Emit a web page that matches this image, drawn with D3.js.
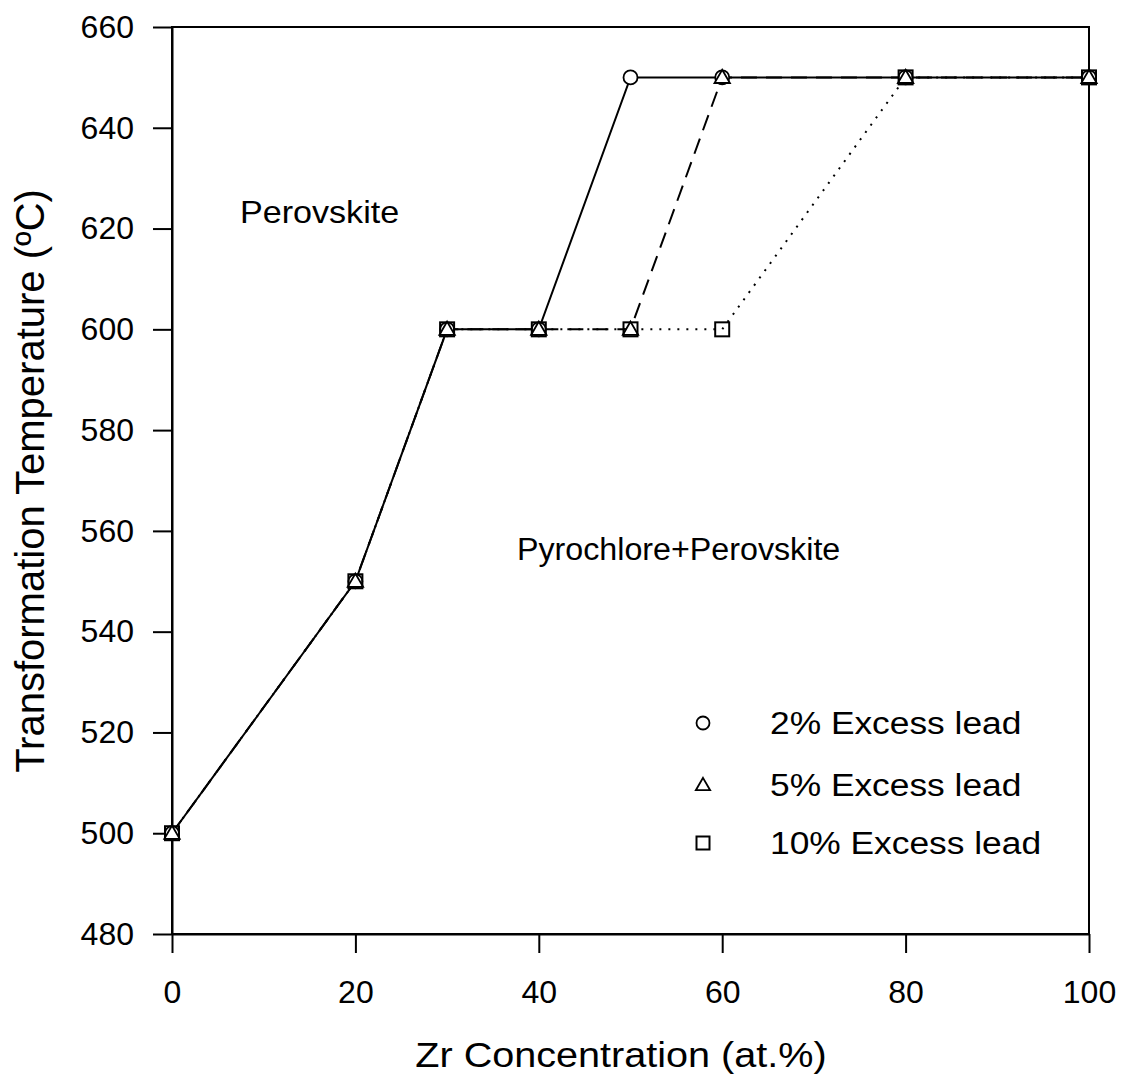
<!DOCTYPE html>
<html><head><meta charset="utf-8">
<script src="https://cdn.jsdelivr.net/npm/d3@7"></script>
<style>body{margin:0;background:#fff}svg{display:block}text{font-family:"Liberation Sans",Arial,sans-serif;fill:#000}</style>
</head><body>
<svg id="c" width="1121" height="1080"></svg>
<script>
const zr = [0, 20, 30, 40, 50, 60, 80, 100];
const lead2 = [500, 550, 600, 600, 650, 650, 650, 650];
const lead5 = [500, 550, 600, 600, 600, 650, 650, 650];
const lead10 = [500, 550, 600, 600, 600, 600, 650, 650];
const seriesNames = ["2% Excess lead", "5% Excess lead", "10% Excess lead"];
const xTicks = [0, 20, 40, 60, 80, 100];
const yTicks = [480, 500, 520, 540, 560, 580, 600, 620, 640, 660];

const svg = d3.select("#c");
const x = d3.scaleLinear().domain([0, 100]).range([172, 1089]);
const y = d3.scaleLinear().domain([480, 660]).range([934, 27]);

function label(px, py, size, txt, anchor, sx) {
  return svg.append("text").attr("transform", `translate(${px},${py}) scale(${sx || 1.1},1)`)
    .attr("font-size", size).attr("text-anchor", anchor || "start").text(txt);
}

// frame
svg.append("rect").attr("x", x(0)).attr("y", y(660)).attr("width", x(100)-x(0)).attr("height", y(480)-y(660))
  .attr("fill", "none").attr("stroke", "#000").attr("stroke-width", 2);

const xa = svg.append("g").attr("transform", `translate(0,${y(480)})`)
  .call(d3.axisBottom(x).tickValues(xTicks).tickSize(19).tickPadding(27).tickSizeOuter(0));
const ya = svg.append("g").attr("transform", `translate(${x(0)},0)`)
  .call(d3.axisLeft(y).tickValues(yTicks).tickSize(19).tickPadding(19).tickSizeOuter(0));
[xa, ya].forEach(a => {
  a.select(".domain").attr("stroke", "#000").attr("stroke-width", 2);
  a.selectAll(".tick line").attr("stroke", "#000").attr("stroke-width", 2);
  a.selectAll(".tick text").attr("font-size", 32).attr("font-family", '"Liberation Sans",Arial,sans-serif').attr("fill", "#000");
});

label(621, 1067, 36, "Zr Concentration (at.%)", "middle");
svg.append("text").attr("transform", "translate(44,481) rotate(-90)").attr("text-anchor", "middle").attr("font-size", 40)
  .text("Transformation Temperature (ºC)");

label(240, 223, 31, "Perovskite");
label(517, 560, 31, "Pyrochlore+Perovskite", "start", 1.04);

const line = d3.line().x(d => x(d[0])).y(d => y(d[1]));
const data = [lead2, lead5, lead10].map(v => zr.map((z, i) => [z, v[i]]));
const dashes = [null, "16,9", "2,7"];
[2, 1, 0].forEach(k => {
  svg.append("path").datum(data[k]).attr("d", line).attr("fill", "none").attr("stroke", "#000")
    .attr("stroke-width", 2).attr("stroke-dasharray", dashes[k]);
});

function marker(g, k, cx, cy, s) {
  if (k === 0) g.append("circle").attr("cx", cx).attr("cy", cy).attr("r", s*0.5).attr("fill", "#fff").attr("stroke", "#000").attr("stroke-width", 1.8);
  else if (k === 1) g.append("path").attr("d", `M${cx},${cy - s*0.55}L${cx + s*0.55},${cy + s*0.4}L${cx - s*0.55},${cy + s*0.4}Z`).attr("fill", "#fff").attr("stroke", "#000").attr("stroke-width", 1.8);
  else g.append("rect").attr("x", cx - s/2).attr("y", cy - s/2).attr("width", s).attr("height", s).attr("fill", "none").attr("stroke", "#000").attr("stroke-width", 2);
}
const mg = svg.append("g");
data.forEach((d, k) => d.forEach(p => marker(mg, k, x(p[0]), y(p[1]), 14)));

// legend
const ly = [723, 785, 843];
seriesNames.forEach((n, k) => {
  marker(svg, k, 703, ly[k], 13);
  label(770, ly[k] + 11, 31, n, "start", 1.14);
});
</script>
</body></html>
